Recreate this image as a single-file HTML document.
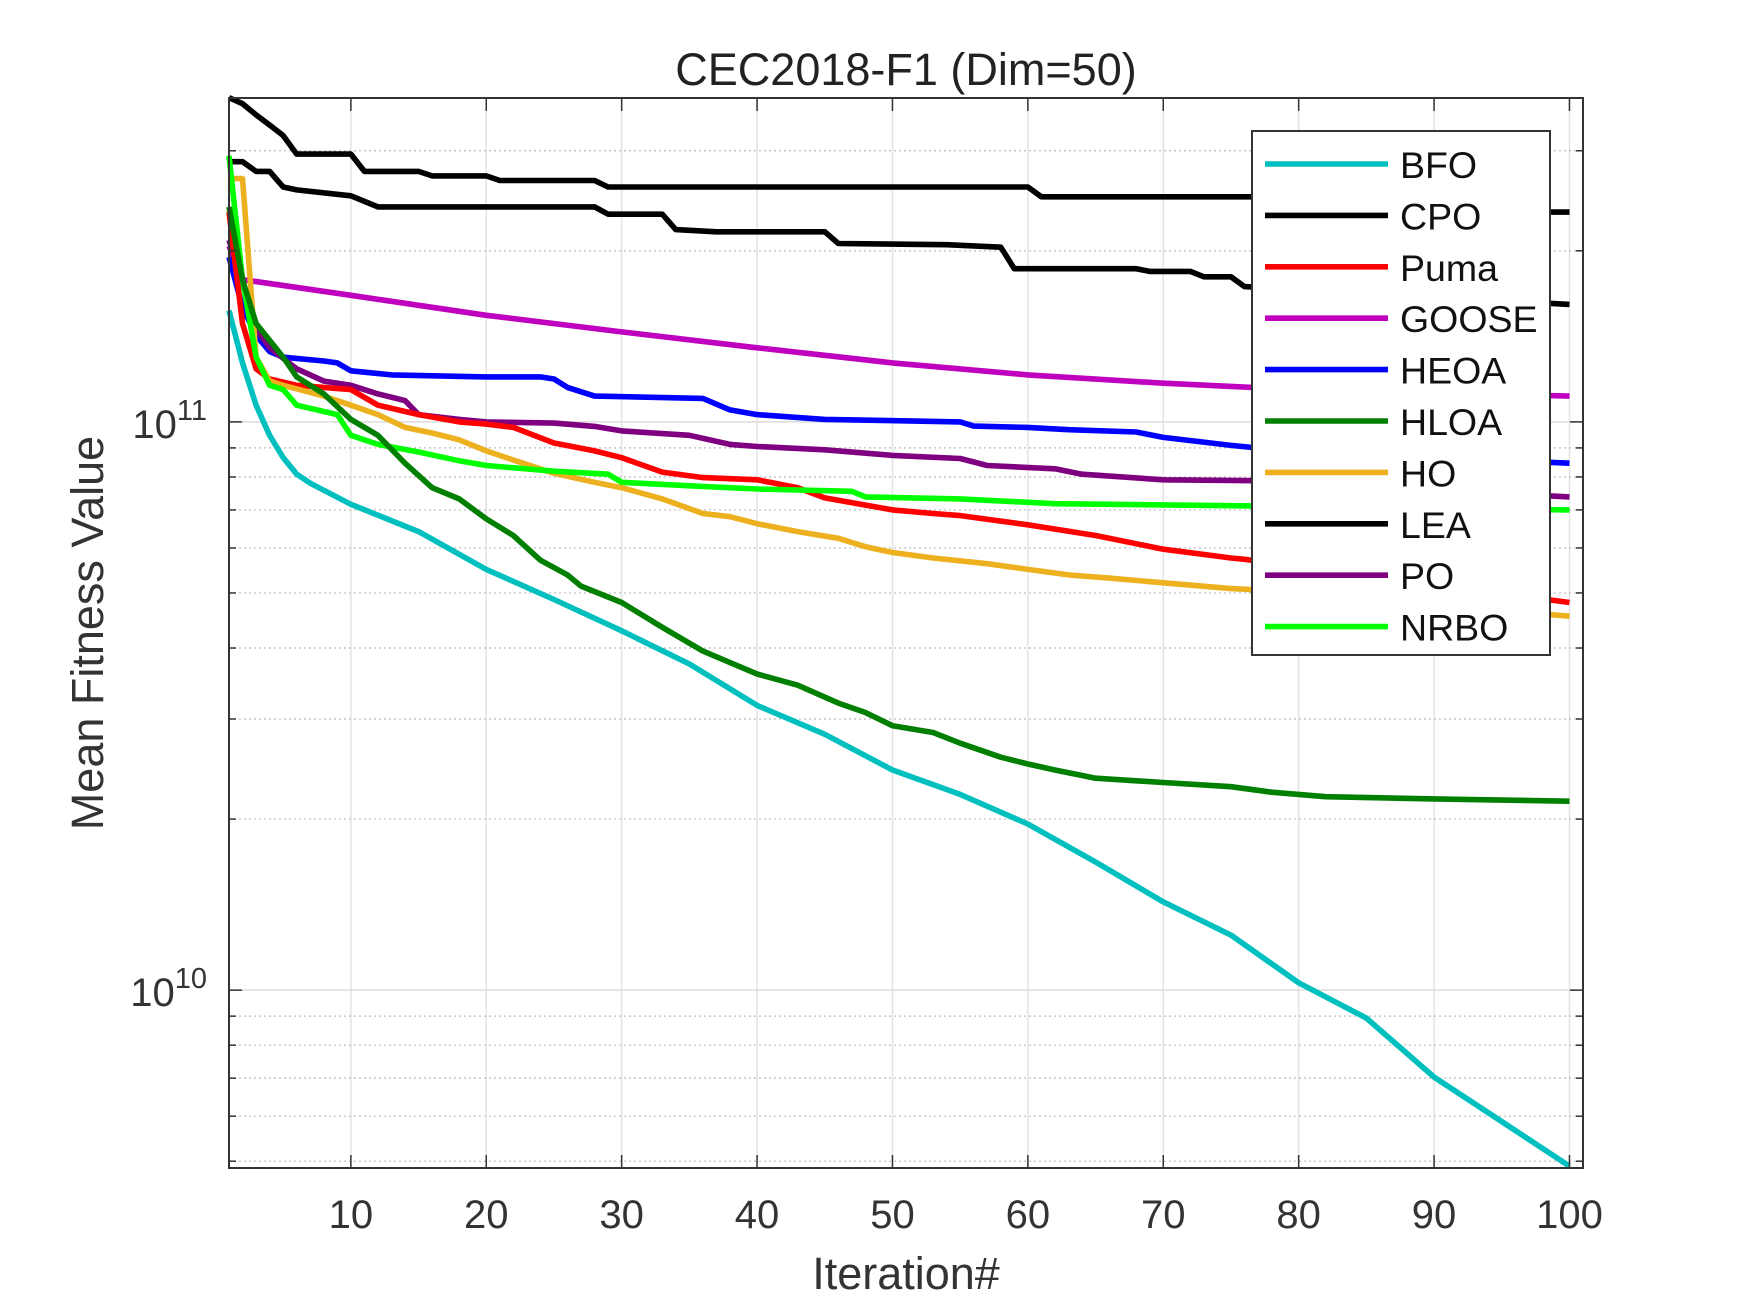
<!DOCTYPE html>
<html><head><meta charset="utf-8"><style>
body{margin:0;background:#fff;}
svg{display:block;font-family:"Liberation Sans",Arial,sans-serif;}
</style></head><body>
<svg id="chart" width="1750" height="1313" viewBox="0 0 1750 1313">
<rect width="1750" height="1313" fill="#fff"/>
<g id="grid"></g>
<g id="series"></g>
<g id="axes"></g>
<text x="906" y="85" font-size="45" text-anchor="middle" fill="#222">CEC2018-F1 (Dim=50)</text>
<text x="906" y="1289" font-size="45" text-anchor="middle" fill="#333">Iteration#</text>
<text transform="translate(103,633) rotate(-90)" font-size="45" text-anchor="middle" fill="#333">Mean Fitness Value</text>
<g id="legend"></g>
</svg>
<script>
const xTicks=[10,20,30,40,50,60,70,80,90,100];
const yMajor=[10,11];
const names=["BFO","CPO","Puma","GOOSE","HEOA","HLOA","HO","LEA","PO","NRBO"];
const colors=["#00bfbf","#000","#ff0000","#bf00bf","#0000ff","#007f00","#edb120","#000","#7e0080","#00ff00"];
const bfoX=[1,2,3,4,5,6,7,10,15,20,25,30,35,40,45,50,55,60,65,70,75,80,85,90,95,100];
const bfoY=[1.57e11,1.27e11,1.07e11,9.47e10,8.65e10,8.09e10,7.8e10,7.16e10,6.41e10,5.5e10,4.87e10,4.29e10,3.75e10,3.17e10,2.82e10,2.44e10,2.21e10,1.96e10,1.68e10,1.43e10,1.25e10,1.03e10,8.93e9,7.03e9,5.87e9,4.9e9];
const cpoX=[1,2,3,4,5,6,10,11,15,16,20,21,28,29,60,61,95,96,100];
const cpoY=[3.72e11,3.63e11,3.47e11,3.33e11,3.19e11,2.96e11,2.96e11,2.76e11,2.76e11,2.71e11,2.71e11,2.66e11,2.66e11,2.59e11,2.59e11,2.49e11,2.49e11,2.34e11,2.34e11];
const pumaX=[1,2,3,4,6,10,12,15,18,20,22,25,28,30,33,36,40,43,45,50,53,55,60,65,70,75,76,100];
const pumaY=[2.34e11,1.49e11,1.24e11,1.19e11,1.16e11,1.14e11,1.07e11,1.03e11,1.0e11,9.91e10,9.78e10,9.18e10,8.89e10,8.65e10,8.16e10,7.98e10,7.91e10,7.66e10,7.35e10,7.0e10,6.9e10,6.84e10,6.59e10,6.31e10,5.97e10,5.76e10,5.73e10,4.81e10];
const gooseX=[1,2,10,20,30,40,50,60,70,80,100];
const gooseY=[2.04e11,1.78e11,1.67e11,1.54e11,1.44e11,1.35e11,1.27e11,1.21e11,1.17e11,1.14e11,1.11e11];
const heoaX=[1,2,3,4,5,8,9,10,13,20,24,25,26,28,36,38,40,45,55,56,60,63,68,70,75,80,100];
const heoaY=[1.95e11,1.59e11,1.42e11,1.33e11,1.3e11,1.28e11,1.27e11,1.23e11,1.21e11,1.2e11,1.2e11,1.19e11,1.15e11,1.11e11,1.1e11,1.05e11,1.03e11,1.01e11,1.0e11,9.83e10,9.78e10,9.69e10,9.6e10,9.39e10,9.09e10,8.85e10,8.46e10];
const hloaX=[1,2,3,5,6,8,10,12,14,16,18,20,22,24,26,27,30,33,36,38,40,43,46,48,50,53,55,58,60,62,65,70,75,78,82,90,100];
const hloaY=[2.39e11,1.78e11,1.49e11,1.3e11,1.2e11,1.12e11,1.01e11,9.47e10,8.46e10,7.66e10,7.32e10,6.75e10,6.31e10,5.71e10,5.38e10,5.14e10,4.81e10,4.35e10,3.95e10,3.77e10,3.6e10,3.44e10,3.2e10,3.08e10,2.92e10,2.84e10,2.72e10,2.57e10,2.5e10,2.44e10,2.36e10,2.32e10,2.28e10,2.23e10,2.19e10,2.17e10,2.15e10];
const hoX=[1,2,3,4,5,8,10,12,14,16,18,20,22,25,28,30,33,36,38,40,43,46,48,50,53,57,60,63,66,70,75,80,90,100];
const hoY=[2.68e11,2.68e11,1.3e11,1.18e11,1.16e11,1.11e11,1.07e11,1.03e11,9.78e10,9.56e10,9.3e10,8.89e10,8.57e10,8.12e10,7.83e10,7.66e10,7.32e10,6.9e10,6.81e10,6.62e10,6.41e10,6.24e10,6.03e10,5.89e10,5.76e10,5.63e10,5.5e10,5.38e10,5.31e10,5.21e10,5.09e10,5.02e10,4.76e10,4.55e10];
const leaX=[1,2,3,4,5,6,10,12,28,29,33,34,37,45,46,54,58,59,68,69,72,73,75,76,100];
const leaY=[2.87e11,2.87e11,2.76e11,2.76e11,2.59e11,2.56e11,2.5e11,2.39e11,2.39e11,2.32e11,2.32e11,2.18e11,2.16e11,2.16e11,2.06e11,2.05e11,2.03e11,1.86e11,1.86e11,1.84e11,1.84e11,1.8e11,1.8e11,1.73e11,1.61e11];
const poX=[1,2,3,4,6,8,10,12,14,15,18,20,25,28,30,35,38,40,45,50,55,57,62,64,70,77,100];
const poY=[2.09e11,1.75e11,1.46e11,1.35e11,1.24e11,1.18e11,1.16e11,1.12e11,1.09e11,1.03e11,1.01e11,1.0e11,9.95e10,9.82e10,9.64e10,9.47e10,9.13e10,9.05e10,8.93e10,8.73e10,8.62e10,8.38e10,8.27e10,8.09e10,7.91e10,7.88e10,7.38e10];
const nrboX=[1,2,3,4,5,6,9,10,12,15,18,20,25,29,30,35,40,47,48,55,62,75,100];
const nrboY=[2.94e11,1.78e11,1.3e11,1.16e11,1.14e11,1.07e11,1.03e11,9.47e10,9.13e10,8.85e10,8.54e10,8.38e10,8.19e10,8.09e10,7.83e10,7.72e10,7.62e10,7.55e10,7.38e10,7.32e10,7.18e10,7.12e10,7.0e10];

const L=229,R=1583,T=98,B=1168,XMIN=1,XMAX=101,LMIN=9.687,LMAX=11.570;
const sx=x=>L+(x-XMIN)*(R-L)/(XMAX-XMIN);
const sy=v=>T+(LMAX-Math.log10(v))*(B-T)/(LMAX-LMIN);
const NS="http://www.w3.org/2000/svg";
function mk(tag,attrs,parent){const e=document.createElementNS(NS,tag);for(const k in attrs)e.setAttribute(k,attrs[k]);parent.appendChild(e);return e;}
const grid=document.getElementById('grid'),axes=document.getElementById('axes'),ser=document.getElementById('series'),leg=document.getElementById('legend');
xTicks.forEach(t=>{const x=sx(t);
 const g=mk('line',{x1:x,x2:x,y1:T,y2:B,stroke:'#e3e3e3','stroke-width':1.5},grid);
 
 mk('line',{x1:x,x2:x,y1:B,y2:B-13,stroke:'#333','stroke-width':1.5},axes);
 mk('line',{x1:x,x2:x,y1:T,y2:T+13,stroke:'#333','stroke-width':1.5},axes);
 const tx=mk('text',{x:x,y:B+60,'font-size':40,'text-anchor':'middle',fill:'#333'},axes);tx.textContent=t;
 });
for(let d=9;d<=11;d++){for(let m=1;m<=9;m++){const v=m*Math.pow(10,d);const lg=Math.log10(v);if(lg<LMIN||lg>LMAX)continue;const y=sy(v);
 const g=mk('line',{x1:L,x2:R,y1:y,y2:y,stroke:m===1?'#dcdcdc':'#bbb','stroke-width':m===1?1.5:1.2,'stroke-dasharray':m===1?'':'2,3'},grid);
 
 const tl=m===1?13:7;
 mk('line',{x1:L,x2:L+tl,y1:y,y2:y,stroke:'#333','stroke-width':1.5},axes);
 mk('line',{x1:R,x2:R-tl,y1:y,y2:y,stroke:'#333','stroke-width':1.5},axes);}}
yMajor.forEach(p=>{const y=sy(Math.pow(10,p));
 const tx=mk('text',{x:207,y:y+16,'font-size':40,'text-anchor':'end',fill:'#333'},axes);
 
 tx.textContent='10';const sp=mk('tspan',{dy:-18,'font-size':29},tx);sp.textContent=String(p);});
const box=mk('rect',{x:L,y:T,width:R-L,height:B-T,fill:'none',stroke:'#333','stroke-width':2},axes);

const XS=[bfoX,cpoX,pumaX,gooseX,heoaX,hloaX,hoX,leaX,poX,nrboX];
const YS=[bfoY,cpoY,pumaY,gooseY,heoaY,hloaY,hoY,leaY,poY,nrboY];
const order=[7,1,3,4,8,2,6,9,5,0];
order.forEach(i=>{const pts=XS[i].map((x,j)=>sx(x).toFixed(1)+','+sy(YS[i][j]).toFixed(1)).join(' ');
 const p=mk('polyline',{points:pts,fill:'none',stroke:colors[i],'stroke-width':5.6,'stroke-linejoin':'round'},ser);
 });
const lb=mk('rect',{x:1252,y:131,width:298,height:524,fill:'#fff',stroke:'#333','stroke-width':2},leg);

names.forEach((n,i)=>{const y=164+i*51.4;
 const g=mk('g',{},leg);
 
 mk('line',{x1:1265,x2:1388,y1:y,y2:y,stroke:colors[i],'stroke-width':5.6},g);
 const t=mk('text',{x:1400,y:y+14,'font-size':37.5,fill:'#111'},g);t.textContent=n;});
</script>
</body></html>
